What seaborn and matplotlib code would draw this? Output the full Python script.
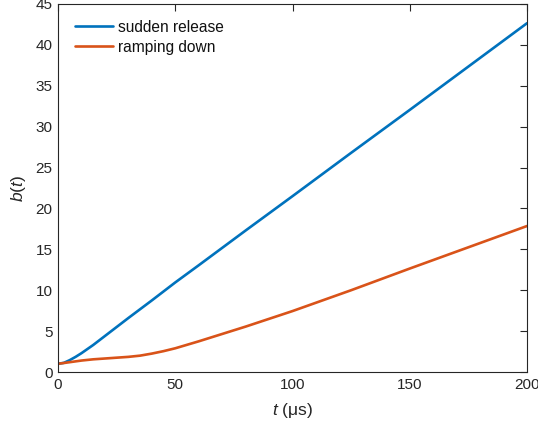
import numpy as np
import pandas as pd
import matplotlib
matplotlib.use("Agg")
import matplotlib.pyplot as plt
import seaborn as sns

# Data
t_sudden = [0, 2.5, 5, 7.5, 10, 15, 20, 25, 30, 40, 50, 60, 80, 100, 125, 150,
            175, 200]
b_sudden = [1.0, 1.12, 1.45, 1.85, 2.3, 3.3, 4.4, 5.5, 6.6, 8.75, 10.95, 13.05,
            17.3, 21.5, 26.8, 32.05, 37.35, 42.65]
t_ramp = [0, 5, 10, 15, 20, 25, 30, 35, 40, 45, 50, 60, 70, 80, 90, 100, 125,
          150, 175, 200]
b_ramp = [1.0, 1.2, 1.4, 1.55, 1.65, 1.75, 1.85, 2.0, 2.25, 2.55, 2.9, 3.75,
          4.65, 5.55, 6.5, 7.45, 10.0, 12.65, 15.25, 17.85]
series_names = ["sudden release", "ramping down"]
colors = ["#0072BD", "#D95319"]
x_ticks = [0, 50, 100, 150, 200]
y_ticks = [0, 5, 10, 15, 20, 25, 30, 35, 40, 45]

df = pd.concat([
    pd.DataFrame({"t": t_sudden, "b": b_sudden, "series": series_names[0]}),
    pd.DataFrame({"t": t_ramp, "b": b_ramp, "series": series_names[1]}),
], ignore_index=True)

sns.set_theme(style="white")
plt.rcParams["font.family"] = ["Liberation Sans", "DejaVu Sans"]
plt.rcParams["mathtext.fontset"] = "custom"
plt.rcParams["mathtext.it"] = "Liberation Sans:italic"
plt.rcParams["mathtext.rm"] = "Liberation Sans"

fig = plt.figure(figsize=(5.38, 4.30), dpi=100)
ax = fig.add_axes([58 / 538, 1 - 372 / 430, (527 - 58) / 538, (372 - 4) / 430])

sns.lineplot(data=df, x="t", y="b", hue="series", palette=colors,
             hue_order=series_names, linewidth=1.9, ax=ax, sort=True,
             estimator=None)

ax.set_xlim(0, 200)
ax.set_ylim(0, 45)
ax.set_xticks(x_ticks)
ax.set_yticks(y_ticks)
ax.tick_params(direction="in", length=5, width=0.8, colors="#262626",
               labelsize=11, top=True, right=True, pad=4,
               labelcolor="#262626")
for s in ax.spines.values():
    s.set_visible(True)
    s.set_color("#262626")
    s.set_linewidth(0.8)

ax.set_xlabel(r"$t$ (μs)", fontsize=12.5, color="#262626", labelpad=7)
ax.set_ylabel(r"$b$($t$)", fontsize=12.5, color="#262626", labelpad=5)

leg = ax.legend(loc="upper left", frameon=False, fontsize=11.2,
                handlelength=2.45, handletextpad=0.35, borderaxespad=0.0,
                labelspacing=0.33, bbox_to_anchor=(0.022, 0.974))
for txt in leg.get_texts():
    txt.set_color("#111111")

fig.savefig("out.png", dpi=100)
